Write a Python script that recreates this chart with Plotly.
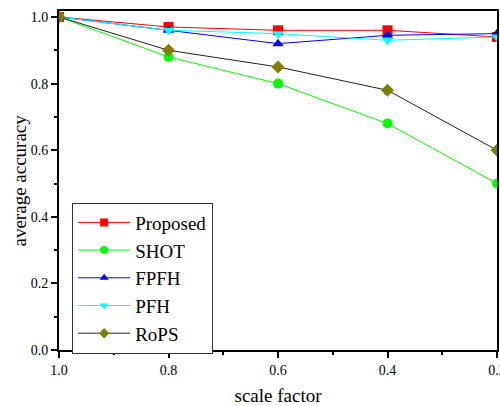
import plotly.graph_objects as go

scale = [1.0, 0.8, 0.6, 0.4, 0.2]
proposed = [1.0, 0.97, 0.96, 0.96, 0.94]
shot = [1.0, 0.88, 0.80, 0.68, 0.50]
fpfh = [1.0, 0.96, 0.92, 0.945, 0.95]
pfh = [1.0, 0.96, 0.95, 0.93, 0.94]
rops = [1.0, 0.90, 0.85, 0.78, 0.60]

series = [
    ("Proposed", proposed, "#ff0000", "#ff0000", "square"),
    ("SHOT", shot, "#00ff00", "#00ff00", "circle"),
    ("FPFH", fpfh, "#0000ff", "#0000ff", "triangle-up"),
    ("PFH", pfh, "#00ffff", "#00ffff", "triangle-down"),
    ("RoPS", rops, "#222222", "#808000", "diamond"),
]

fig = go.Figure()
for name, vals, lc, mc, sym in series:
    fig.add_trace(go.Scatter(
        x=scale, y=vals, name=name, mode="lines+markers", showlegend=False,
        line=dict(color=lc, width=1),
        marker=dict(color=mc, symbol=sym, size=10, line=dict(width=0)),
    ))
# legend entries (smaller legend markers as in the reference)
for name, vals, lc, mc, sym in series:
    fig.add_trace(go.Scatter(
        x=[None], y=[None], name=name, mode="lines+markers",
        line=dict(color=lc, width=1),
        marker=dict(color=mc, symbol=sym, size=8, line=dict(width=0)),
    ))

font = "Liberation Serif, Times New Roman, serif"
fig.update_layout(
    width=500, height=406,
    margin=dict(l=59, r=3, t=11, b=56, autoexpand=False),
    paper_bgcolor="white", plot_bgcolor="white",
    font=dict(family=font, color="black", size=14),
    showlegend=True,
    legend=dict(
        x=0.03, y=0.435, xanchor="left", yanchor="top",
        bgcolor="white", bordercolor="#333333", borderwidth=1,
        font=dict(family=font, size=19),
        itemwidth=52,
    ),
    xaxis=dict(
        range=[1.0, 0.2], tickvals=[1.0, 0.8, 0.6, 0.4, 0.2],
        ticktext=["1.0", "0.8", "0.6", "0.4", "0.2"],
        ticks="outside", ticklen=6, tickwidth=1.5, tickcolor="black",
        ticklabeloverflow="allow", automargin=False,
        minor=dict(tickvals=[0.9, 0.7, 0.5, 0.3], ticks="outside", ticklen=3, tickcolor="black", tickwidth=1.5),
        showline=True, linecolor="black", linewidth=2, mirror=True,
        showgrid=False, zeroline=False,
        title=dict(text="scale factor", font=dict(size=19, family=font), standoff=12),
        tickfont=dict(size=14, family=font),
    ),
    yaxis=dict(
        range=[0.0, 1.018], tickvals=[0.0, 0.2, 0.4, 0.6, 0.8, 1.0],
        ticktext=["0.0", "0.2", "0.4", "0.6", "0.8", "1.0"],
        ticks="outside", ticklen=6, tickwidth=1.5, tickcolor="black",
        automargin=False,
        minor=dict(tickvals=[0.1, 0.3, 0.5, 0.7, 0.9], ticks="outside", ticklen=3, tickcolor="black", tickwidth=1.5),
        showline=True, linecolor="black", linewidth=2, mirror=True,
        showgrid=False, zeroline=False,
        tickfont=dict(size=14, family=font),
    ),
    annotations=[dict(
        text="average accuracy", xref="paper", yref="paper",
        x=0, y=0.5, xshift=-40, xanchor="center", yanchor="middle",
        textangle=-90, showarrow=False, font=dict(size=19, family=font),
    )],
)

fig.write_html("out.html")
